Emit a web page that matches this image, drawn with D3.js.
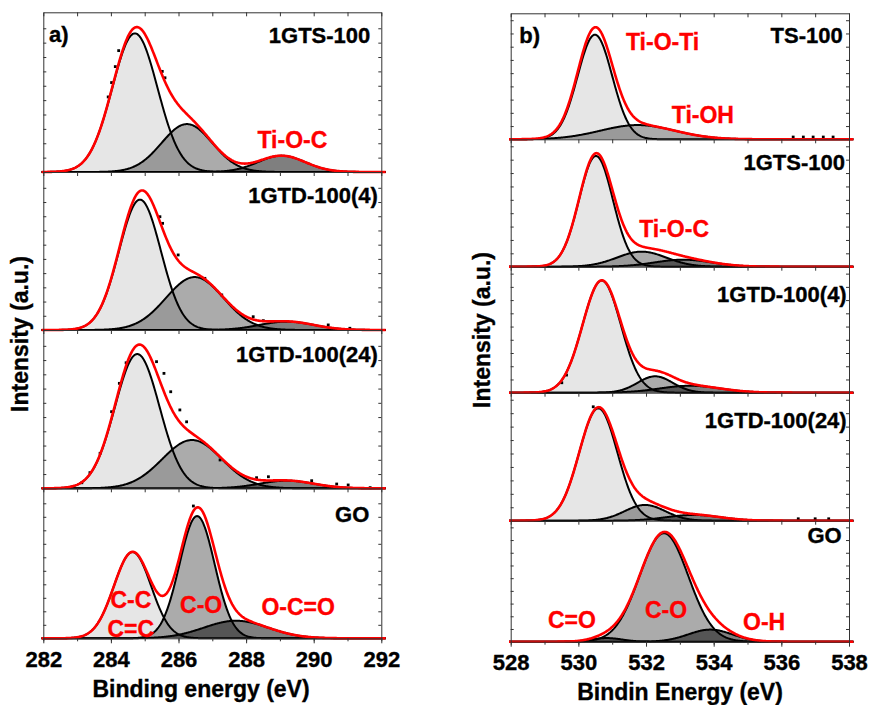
<!DOCTYPE html>
<html>
<head>
<meta charset="utf-8">
<script src="https://cdn.jsdelivr.net/npm/d3@7"></script>
<style>
  body { margin: 0; background: #fff; }
  svg text { font-family: "Liberation Sans", Arial, Helvetica, sans-serif; font-weight: bold; stroke-width: 0.35; }
</style>
</head>
<body>
<svg id="chart" width="871" height="705"></svg>
<script>
// ---- C 1s (left) and O 1s (right) spectra with fitted components ----
const c1sTicks = [282, 284, 286, 288, 290, 292];
const o1sTicks = [528, 530, 532, 534, 536, 538];

const c1sSamples = ["1GTS-100", "1GTD-100(4)", "1GTD-100(24)", "GO"];
const o1sSamples = ["TS-100", "1GTS-100", "1GTD-100(4)", "1GTD-100(24)", "GO"];

// fitted components per sample: [centre (eV), height (a.u.), sigma (eV)]
const c1sPeaks = [
  [[284.71, 86.8, 0.67], [286.25, 30.0, 0.75], [289.05, 10.2, 0.70]],
  [[284.86, 82.5, 0.62], [286.48, 33.5, 0.85], [289.20, 5.3, 0.80]],
  [[284.78, 84.8, 0.66], [286.40, 30.5, 0.88], [289.20, 4.8, 0.80]],
  [[284.64, 57.5, 0.55], [286.55, 81.5, 0.52], [287.70, 11.7, 0.95]]
];
const o1sPeaks = [
  [[530.49, 83.0, 0.51], [531.75, 11.3, 1.10]],
  [[530.52, 86.9, 0.50], [531.87, 11.8, 0.73], [533.10, 5.5, 0.85]],
  [[530.69, 89.0, 0.565], [532.27, 13.0, 0.52], [533.30, 5.5, 0.90]],
  [[530.59, 87.8, 0.565], [531.97, 12.3, 0.60], [533.40, 4.5, 0.80]],
  [[530.84, 3.0, 0.45], [532.53, 89.6, 0.72], [533.90, 10.0, 0.65]]
];

// measured points standing clear of the fitted envelope: [eV, a.u.]
const c1sPoints = [
  [[283.92, 47], [284.02, 56], [284.13, 66], [284.23, 76], [285.52, 63], [285.60, 59]],
  [[285.45, 71.7], [285.53, 67.5], [285.99, 47.5], [286.78, 32.7], [287.28, 22.2],
   [288.21, 8.4], [288.51, 5.9], [290.43, 3.2], [291.07, 1.1]],
  [[283.14, 3.5], [283.38, 9.9], [283.68, 22.1], [284.02, 48.4], [284.25, 66.3], [284.45, 79.3],
   [285.35, 80], [285.57, 72.6], [285.77, 61], [286.04, 49.5], [286.24, 42], [287.23, 17.9],
   [288.31, 6.7], [288.66, 7.3], [289.94, 4.8], [290.68, 2.7], [291.02, 2.1], [291.67, 0.4]],
  [[286.44, 88.2]]
];
const o1sPoints = [
  [[536.35, 1.8], [536.65, 1.8], [536.94, 1.8], [537.24, 1.8], [537.53, 1.8]],
  [],
  [[529.51, 7.9], [529.65, 14]],
  [[530.44, 89], [536.5, 1.5], [537.0, 1.5], [537.4, 1.5]],
  []
];

// component annotations: [panel, text, eV, a.u.]
const c1sNotes = [
  [0, "Ti-O-C", 289.37, 15.0],
  [3, "C-C", 284.59, 20.0],
  [3, "C=C", 284.59, 1.1],
  [3, "C-O", 286.67, 16.7],
  [3, "O-C=O", 289.54, 15.5]
];
const o1sNotes = [
  [0, "Ti-O-Ti", 532.49, 70.9],
  [0, "Ti-OH", 533.68, 12.7],
  [1, "Ti-O-C", 532.83, 23.5],
  [4, "C=O", 529.81, 11.1],
  [4, "C-O", 532.59, 19.3],
  [4, "O-H", 535.49, 9.7]
];

// ---- layout and styling ----
const svg = d3.select("#chart");
const shade = ["#e6e6e6", "rgba(0,0,0,0.33)", "rgba(0,0,0,0.5)"];

const columns = [
  {
    samples: c1sSamples, peaks: c1sPeaks, points: c1sPoints, notes: c1sNotes, ticks: c1sTicks,
    domain: [282, 292], x0: 43.3, x1: 381.3,
    edges: [12.3, 172, 330, 488.3, 638.3],
    levels: [[0, 1, 2], [0, 1, 2], [0, 1, 2], [0, 1, 2]],
    titleRight: [11, 3.5, 3.5, 12], titleDown: [31, 31.3, 31.7, 34],
    tag: "a)", tagX: 49, yStep: 9,
    xTitle: "Binding energy (eV)", xTitleX: 201, xTitleY: 697,
    yTitleX: 28, yTitleY: 334
  },
  {
    samples: o1sSamples, peaks: o1sPeaks, points: o1sPoints, notes: o1sNotes, ticks: o1sTicks,
    domain: [528, 538], x0: 510.7, x1: 849,
    edges: [13.3, 139.3, 266.7, 392.7, 520.7, 641.7],
    levels: [[0, 1], [0, 1, 2], [0, 1, 2], [0, 1, 2], [2, 1, 2]],
    titleRight: [6.3, 4, 2.3, 2.3, 7.3], titleDown: [29.7, 30.7, 35, 35.6, 22],
    tag: "b)", tagX: 519.3, yStep: 10.5,
    xTitle: "Bindin Energy (eV)", xTitleX: 680, xTitleY: 700,
    yTitleX: 490, yTitleY: 330
  }
];

const gauss = (e, p) => p[1] * Math.exp(-((e - p[0]) ** 2) / (2 * p[2] * p[2]));

columns.forEach(col => {
  const x = d3.scaleLinear().domain(col.domain).range([col.x0, col.x1]);
  const grid = d3.range(col.domain[0] - 0.05, col.domain[1] + 0.14, 0.02);
  const g = svg.append("g");

  col.samples.forEach((name, i) => {
    const top = col.edges[i], bottom = col.edges[i + 1];
    const y = d3.scaleLinear().domain([0, 100]).range([bottom, top]);
    const pg = g.append("g");
    const peaks = col.peaks[i];
    const levels = col.levels[i];

    const area = d3.area().x(d => x(d[0])).y0(y(0)).y1(d => y(d[1]));
    const line = d3.line().x(d => x(d[0])).y(d => y(d[1]));

    const comps = peaks.map(p => grid.map(e => [e, gauss(e, p)]));
    const envelope = grid.map(e => [e, d3.sum(peaks, p => gauss(e, p))]);

    // component fills, lightest first
    const order = d3.range(peaks.length).sort((a, b) => levels[a] - levels[b]);
    order.forEach(k => {
      pg.append("path").attr("d", area(comps[k])).attr("fill", shade[levels[k]]).attr("stroke", "none");
    });
    // component outlines
    comps.forEach(c => {
      pg.append("path").attr("d", line(c)).attr("fill", "none")
        .attr("stroke", "#000").attr("stroke-width", 2).attr("stroke-linejoin", "round");
    });
    // measured points
    pg.selectAll("rect.pt").data(col.points[i]).join("rect")
      .attr("x", d => x(d[0]) - 1.4).attr("y", d => y(d[1]) - 1.4)
      .attr("width", 2.8).attr("height", 2.8).attr("fill", "#000");
    // fitted envelope
    pg.append("path").attr("d", line(envelope)).attr("fill", "none")
      .attr("stroke", "#ff0000").attr("stroke-width", 2.6).attr("stroke-linejoin", "round");

    // frame: top edge with inward ticks
    g.append("g").attr("transform", `translate(0,${top})`)
      .call(d3.axisBottom(x).tickValues(d3.range(col.domain[0], col.domain[1] + 1, 1))
        .tickSize(4).tickSizeOuter(0).tickFormat(""))
      .call(a => a.selectAll("path,line").attr("stroke", "#333"));
    // left and right edges with inward ticks
    const yTicks = d3.range(col.yStep, 99, col.yStep);
    g.append("g").attr("transform", `translate(${col.x0},0)`)
      .call(d3.axisRight(y).tickValues(yTicks).tickSize(3).tickSizeOuter(0).tickFormat(""))
      .call(a => a.selectAll("path,line").attr("stroke", "#333"));
    g.append("g").attr("transform", `translate(${col.x1},0)`)
      .call(d3.axisLeft(y).tickValues(yTicks).tickSize(3).tickSizeOuter(0).tickFormat(""))
      .call(a => a.selectAll("path,line").attr("stroke", "#333"));

    // sample name
    g.append("text").attr("x", col.x1 - col.titleRight[i]).attr("y", top + col.titleDown[i])
      .attr("text-anchor", "end").attr("font-size", 22).attr("fill", "#000").attr("stroke", "#000").text(name);

    // component labels
    col.notes.filter(n => n[0] === i).forEach(n => {
      g.append("text").attr("x", x(n[2])).attr("y", y(n[3]))
        .attr("text-anchor", "middle").attr("font-size", 23)
        .attr("fill", "#ff0000").attr("stroke", "#ff0000").text(n[1]);
    });
  });

  // bottom axis with labels
  const base = col.edges[col.edges.length - 1];
  g.append("g").attr("transform", `translate(0,${base})`)
    .call(d3.axisBottom(x).tickValues(d3.range(col.domain[0], col.domain[1] + 1, 1))
      .tickSize(3).tickSizeOuter(0).tickFormat(""))
    .call(a => a.selectAll("path,line").attr("stroke", "#333"));
  g.append("g").attr("transform", `translate(0,${base})`)
    .call(d3.axisBottom(x).tickValues(col.ticks).tickSize(5).tickSizeOuter(0).tickPadding(8).tickFormat(d3.format("d")))
    .call(a => a.select(".domain").remove())
    .call(a => a.selectAll("line").attr("stroke", "#333"))
    .call(a => a.selectAll("text").attr("font-size", 22).attr("fill", "#000").attr("stroke", "#000")
      .attr("font-family", "'Liberation Sans', Arial, sans-serif").attr("font-weight", "bold"));

  // panel tag
  g.append("text").attr("x", col.tagX).attr("y", col.edges[0] + 29.4)
    .attr("font-size", 22).attr("fill", "#000").attr("stroke", "#000").text(col.tag);

  // axis titles
  g.append("text").attr("x", col.xTitleX).attr("y", col.xTitleY)
    .attr("text-anchor", "middle").attr("font-size", 23).attr("fill", "#000").attr("stroke", "#000").text(col.xTitle);
  g.append("text").attr("transform", `translate(${col.yTitleX},${col.yTitleY}) rotate(-90)`)
    .attr("text-anchor", "middle").attr("font-size", 23).attr("fill", "#000").attr("stroke", "#000").text("Intensity (a.u.)");
});
</script>
</body>
</html>
